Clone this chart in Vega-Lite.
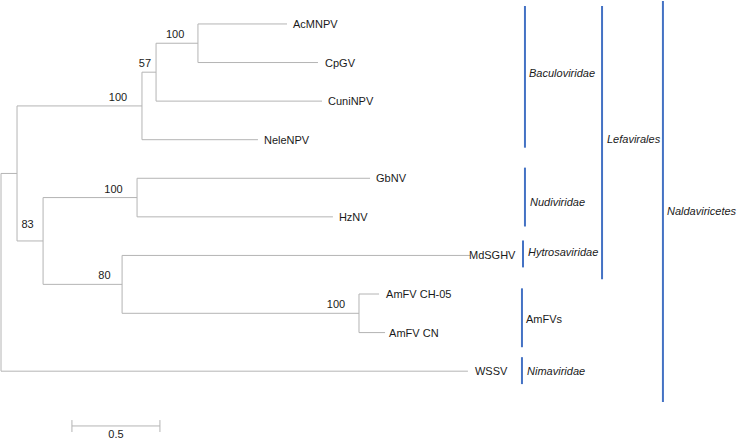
{
  "$schema": "https://vega.github.io/schema/vega-lite/v6.json",
  "width": 738,
  "height": 440,
  "padding": 0,
  "autosize": {"type": "fit", "contains": "padding"},
  "config": {"view": {"stroke": null}},
  "datasets": {
    "branches": [
      {"x": 0, "x2": 0.091, "y": 3.875, "y2": 3.875},
      {"x": 0, "x2": 2.653, "y": 9, "y2": 9},
      {"x": 0.091, "x2": 0.801, "y": 2.125, "y2": 2.125},
      {"x": 0.091, "x2": 0.239, "y": 5.625, "y2": 5.625},
      {"x": 0.801, "x2": 0.881, "y": 1.25, "y2": 1.25},
      {"x": 0.801, "x2": 1.46, "y": 3, "y2": 3},
      {"x": 0.881, "x2": 1.119, "y": 0.5, "y2": 0.5},
      {"x": 0.881, "x2": 1.824, "y": 2, "y2": 2},
      {"x": 1.119, "x2": 1.625, "y": 0, "y2": 0},
      {"x": 1.119, "x2": 1.801, "y": 1, "y2": 1},
      {"x": 0.239, "x2": 0.773, "y": 4.5, "y2": 4.5},
      {"x": 0.239, "x2": 0.688, "y": 6.75, "y2": 6.75},
      {"x": 0.773, "x2": 2.097, "y": 4, "y2": 4},
      {"x": 0.773, "x2": 1.886, "y": 5, "y2": 5},
      {"x": 0.688, "x2": 2.665, "y": 6, "y2": 6},
      {"x": 0.688, "x2": 2.034, "y": 7.5, "y2": 7.5},
      {"x": 2.034, "x2": 2.148, "y": 7, "y2": 7},
      {"x": 2.034, "x2": 2.182, "y": 8, "y2": 8},
      {"x": 0, "x2": 0, "y": 3.875, "y2": 9},
      {"x": 0.091, "x2": 0.091, "y": 2.125, "y2": 5.625},
      {"x": 0.801, "x2": 0.801, "y": 1.25, "y2": 3},
      {"x": 0.881, "x2": 0.881, "y": 0.5, "y2": 2},
      {"x": 1.119, "x2": 1.119, "y": 0, "y2": 1},
      {"x": 0.239, "x2": 0.239, "y": 4.5, "y2": 6.75},
      {"x": 0.773, "x2": 0.773, "y": 4, "y2": 5},
      {"x": 0.688, "x2": 0.688, "y": 6, "y2": 7.5},
      {"x": 2.034, "x2": 2.034, "y": 7, "y2": 8},
      {"x": 0.403, "x2": 0.903, "y": 10.42, "y2": 10.42},
      {"x": 0.403, "x2": 0.403, "y": 10.267, "y2": 10.577},
      {"x": 0.903, "x2": 0.903, "y": 10.267, "y2": 10.577}
    ],
    "leaves": [
      {"name": "AcMNPV", "x": 1.659, "y": 0},
      {"name": "CpGV", "x": 1.841, "y": 1},
      {"name": "CuniNPV", "x": 1.858, "y": 2},
      {"name": "NeleNPV", "x": 1.494, "y": 3},
      {"name": "GbNV", "x": 2.131, "y": 4},
      {"name": "HzNV", "x": 1.92, "y": 5},
      {"name": "MdSGHV", "x": 2.659, "y": 6},
      {"name": "AmFV CH-05", "x": 2.188, "y": 7},
      {"name": "AmFV CN", "x": 2.205, "y": 8},
      {"name": "WSSV", "x": 2.693, "y": 9}
    ],
    "support": [
      {"value": "100", "x": 0.665, "y": 1.914},
      {"value": "57", "x": 0.818, "y": 1.034},
      {"value": "100", "x": 0.989, "y": 0.284},
      {"value": "100", "x": 0.639, "y": 4.293},
      {"value": "83", "x": 0.151, "y": 5.224},
      {"value": "80", "x": 0.588, "y": 6.543},
      {"value": "100", "x": 1.903, "y": 7.293},
      {"value": "0.5", "x": 0.653, "y": 10.654}
    ],
    "groups": [
      {"name": "Baculoviridae", "taxon": "yes", "bx": 2.977, "y1": -0.465, "y2": 3.207, "x": 3.0, "y": 1.293},
      {"name": "Nudiviridae", "taxon": "yes", "bx": 2.977, "y1": 3.724, "y2": 5.25, "x": 3.006, "y": 4.629},
      {"name": "Hytrosaviridae", "taxon": "yes", "bx": 2.966, "y1": 5.612, "y2": 6.31, "x": 2.994, "y": 5.948},
      {"name": "AmFVs", "taxon": "no", "bx": 2.96, "y1": 6.853, "y2": 8.379, "x": 2.983, "y": 7.68},
      {"name": "Nimaviridae", "taxon": "yes", "bx": 2.96, "y1": 8.637, "y2": 9.335, "x": 2.989, "y": 9.025},
      {"name": "Lefavirales", "taxon": "yes", "bx": 3.415, "y1": -0.465, "y2": 6.62, "x": 3.443, "y": 3.0},
      {"name": "Naldaviricetes", "taxon": "yes", "bx": 3.761, "y1": -0.595, "y2": 9.801, "x": 3.784, "y": 4.862}
    ]
  },
  "layer": [
    {
      "data": {"name": "branches"},
      "mark": {"type": "rule", "color": "#b4b4b4", "strokeWidth": 1},
      "encoding": {
        "x": {"field": "x", "type": "quantitative", "scale": {"domain": [-0.0057, 4.1875], "nice": false, "zero": false}, "axis": null},
        "x2": {"field": "x2"},
        "y": {"field": "y", "type": "quantitative", "scale": {"domain": [-0.595, 10.784], "reverse": true, "nice": false, "zero": false}, "axis": null},
        "y2": {"field": "y2"}
      }
    },
    {
      "data": {"name": "groups"},
      "mark": {"type": "rule", "color": "#4472c4", "strokeWidth": 2},
      "encoding": {
        "x": {"field": "bx", "type": "quantitative"},
        "y": {"field": "y1", "type": "quantitative"},
        "y2": {"field": "y2"}
      }
    },
    {
      "data": {"name": "leaves"},
      "mark": {"type": "text", "align": "left", "baseline": "middle", "dy": 1, "font": "Liberation Sans", "fontSize": 11, "fill": "#1a1a1a"},
      "encoding": {
        "x": {"field": "x", "type": "quantitative"},
        "y": {"field": "y", "type": "quantitative"},
        "text": {"field": "name"}
      }
    },
    {
      "data": {"name": "support"},
      "mark": {"type": "text", "align": "center", "baseline": "middle", "font": "Liberation Sans", "fontSize": 11, "fill": "#1a1a1a"},
      "encoding": {
        "x": {"field": "x", "type": "quantitative"},
        "y": {"field": "y", "type": "quantitative"},
        "text": {"field": "value"}
      }
    },
    {
      "data": {"name": "groups"},
      "transform": [{"filter": "datum.taxon === 'yes'"}],
      "mark": {"type": "text", "align": "left", "baseline": "middle", "fontStyle": "italic", "font": "Liberation Sans", "fontSize": 11, "fill": "#1a1a1a"},
      "encoding": {
        "x": {"field": "x", "type": "quantitative"},
        "y": {"field": "y", "type": "quantitative"},
        "text": {"field": "name"}
      }
    },
    {
      "data": {"name": "groups"},
      "transform": [{"filter": "datum.taxon === 'no'"}],
      "mark": {"type": "text", "align": "left", "baseline": "middle", "font": "Liberation Sans", "fontSize": 11, "fill": "#1a1a1a"},
      "encoding": {
        "x": {"field": "x", "type": "quantitative"},
        "y": {"field": "y", "type": "quantitative"},
        "text": {"field": "name"}
      }
    }
  ]
}
